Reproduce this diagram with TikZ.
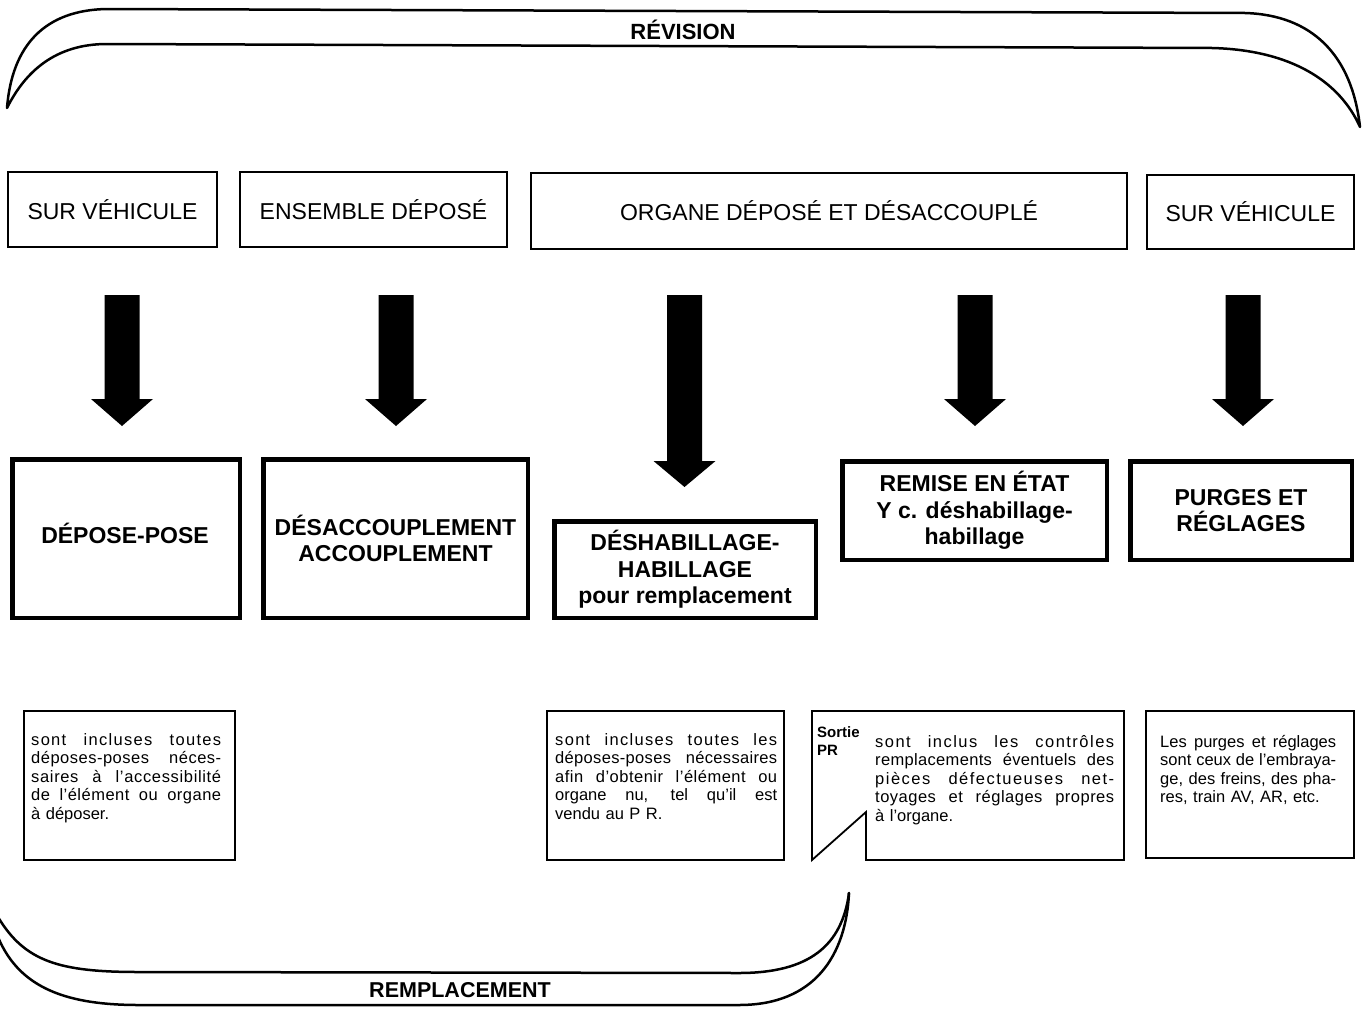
\documentclass[tikz,border=0pt]{standalone}
\usepackage{fontspec}
\setmainfont{Liberation Sans}
\usetikzlibrary{calc}
\newcommand\jl[3][0]{\makebox[#2pt][s]{\addfontfeature{LetterSpace=#1}\spaceskip=.28em plus 1fil\relax\xspaceskip=.28em plus 1fil\relax #3}}
\newcommand\blkarrow[3]{%
  \fill ($(#1)+(-17.5,0)$) -- ($(#1)+(17.5,0)$) -- ($(#2)+(17.5,-#3)$) -- ($(#2)+(31,-#3)$) -- (#2)
     -- ($(#2)+(-31,-#3)$) -- ($(#2)+(-17.5,-#3)$) -- cycle;}
\begin{document}
\begin{tikzpicture}[x=1pt,y=-1pt,
  topbox/.style={draw, line width=1.8pt, inner sep=0pt, font=\fontsize{23}{26}\selectfont},
  mainbox/.style={draw, line width=4.5pt, inner sep=0pt, align=center, font=\bfseries\fontsize{23}{26.5}\selectfont},
  maintext/.style={inner sep=0pt, align=center, font=\bfseries\fontsize{23}{26.5}\selectfont},
  notebox/.style={draw, line width=1.8pt, inner sep=0pt},
  notetext/.style={inner sep=0pt, anchor=north west, align=left, font=\fontsize{16.5}{18.5}\selectfont},
  brace/.style={line width=2.5pt, line join=round, line cap=round},
  bracelabel/.style={inner sep=0pt, font=\bfseries\fontsize{22}{24}\selectfont}]
\useasboundingbox (0,0) rectangle (1362,1009);

% top brace
\draw[brace] (7,108) .. controls (12,45) and (45,10) .. (107,9) -- (1245,13)
  .. controls (1312,15) and (1352,55) .. (1360,127)
  .. controls (1340,82) and (1292,50) .. (1212,48) -- (107,44)
  .. controls (55,44) and (25,72) .. (7,108) -- cycle;
\node[bracelabel] (rev) at (683,30) {RÉVISION};

% top boxes
\node[topbox, minimum width=209, minimum height=75] (t1) at (112.5,209.5) {SUR VÉHICULE};
\node[topbox, minimum width=267, minimum height=75] (t2) at (373.5,209.5) {ENSEMBLE DÉPOSÉ};
\node[topbox, minimum width=596, minimum height=76] (t3) at (829,211) {ORGANE DÉPOSÉ ET DÉSACCOUPLÉ};
\node[topbox, minimum width=207, minimum height=74] (t4) at (1250.5,212) {SUR VÉHICULE};

% arrows
\coordinate (a1s) at (122,295);  \coordinate (a1e) at (122,426);
\coordinate (a2s) at (396,295);  \coordinate (a2e) at (396,426);
\coordinate (a3s) at (684.5,295); \coordinate (a3e) at (684.5,487);
\coordinate (a4s) at (975,295);  \coordinate (a4e) at (975,426);
\coordinate (a5s) at (1243,295); \coordinate (a5e) at (1243,426);
\blkarrow{a1s}{a1e}{27}
\blkarrow{a2s}{a2e}{27}
\blkarrow{a3s}{a3e}{26}
\blkarrow{a4s}{a4e}{27}
\blkarrow{a5s}{a5e}{27}

% main boxes
\node[mainbox, minimum width=227.5, minimum height=158.5] (m1) at (126,538.5) {};
\node[maintext] (m1t) at (125,533) {DÉPOSE-POSE};
\node[mainbox, minimum width=264.5, minimum height=158.5] (m2) at (395.5,538.5) {DÉSACCOUPLEMENT\\ACCOUPLEMENT};
\node[mainbox, minimum width=261.5, minimum height=96.5] (m3) at (685,569.5) {DÉSHABILLAGE-\\HABILLAGE\\pour remplacement};
\node[mainbox, minimum width=264.5, minimum height=98.5] (m4) at (974.5,510.5) {REMISE EN ÉTAT\\Y c. déshabillage-\\habillage};
\node[mainbox, minimum width=221.5, minimum height=98.5] (m5) at (1241,510.5) {PURGES ET\\RÉGLAGES};

% note boxes
\node[notebox, minimum width=211, minimum height=149] (n1) at (129.5,785.5) {};
\node[notebox, minimum width=237, minimum height=149] (n2) at (665.5,785.5) {};
\coordinate (n3a) at (812,711);
\coordinate (n3b) at (812,860);
\coordinate (n3c) at (866,812);
\coordinate (n3d) at (866,860);
\coordinate (n3e) at (1124,860);
\coordinate (n3f) at (1124,711);
\draw[line width=1.8pt, line join=miter] (n3a) -- (n3b) -- (n3c) -- (n3d) -- (n3e) -- (n3f) -- cycle;
\node[notebox, minimum width=208, minimum height=147] (n4) at (1250,784.5) {};

\node[notetext, text width=190] (p1) at (31,733) {%
\jl[8]{190}{sont incluses toutes}\\
\jl[3]{190}{déposes-poses néces-}\\
\jl[4]{190}{saires à l’accessibilité}\\
\jl[3]{190}{de l’élément ou organe}\\
à déposer.};
\node[notetext, text width=222] (p2) at (555,733) {%
\jl[8]{222}{sont incluses toutes les}\\
\jl[2]{222}{déposes-poses nécessaires}\\
\jl[3]{222}{afin d’obtenir l’élément ou}\\
\jl{222}{organe nu, tel qu’il est}\\
vendu au P R.};
\node[notetext, text width=239] (p3) at (875,735) {%
\jl[9]{239}{sont inclus les contrôles}\\
\jl[2]{239}{remplacements éventuels des}\\
\jl[9]{239}{pièces défectueuses net-}\\
\jl[3]{239}{toyages et réglages propres}\\
à l’organe.};
\node[notetext, text width=176] (p4) at (1160,735) {%
\jl{176}{Les purges et réglages}\\
\jl{176}{sont ceux de l’embraya-}\\
\jl{176}{ge, des freins, des pha-}\\
res, train AV, AR, etc.};
\node[notetext, font=\bfseries\fontsize{15}{18}\selectfont] (sp) at (817,726) {Sortie\\PR};

% bottom brace
\draw[brace] (-2,917) .. controls (25,962) and (60,972) .. (139,972) -- (739,973)
  .. controls (810,973) and (842,945) .. (849,893);
\draw[brace] (-2,937) .. controls (20,990) and (70,1005) .. (139,1005) -- (739,1005)
  .. controls (815,1005) and (846,955) .. (849,893);
\node[bracelabel, font=\bfseries\fontsize{21.5}{24}\selectfont] (rem) at (460,990) {REMPLACEMENT};
\end{tikzpicture}
\end{document}
